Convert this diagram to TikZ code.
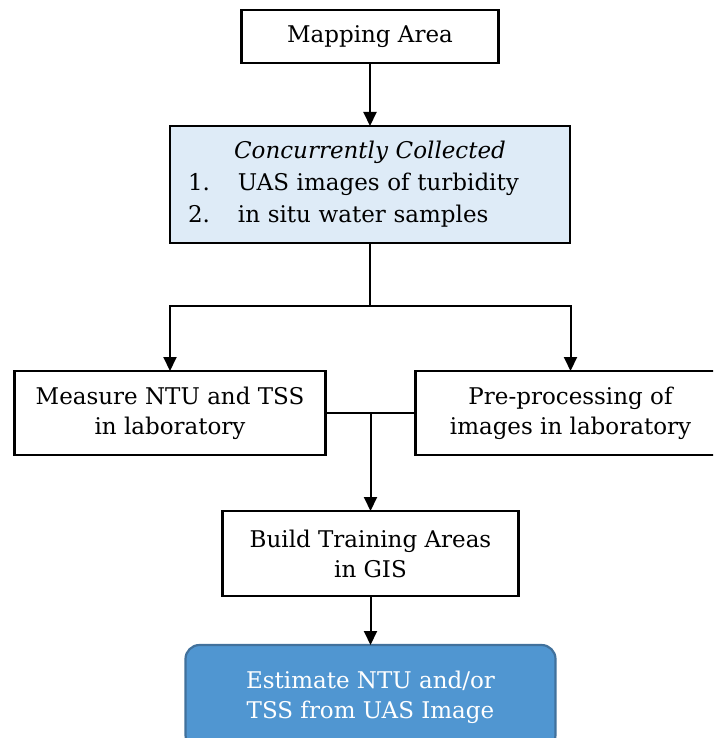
\documentclass[tikz,border=0pt]{standalone}
\usepackage{fontspec}
\setmainfont{DejaVu Serif}
\usetikzlibrary{arrows.meta,positioning,calc}
\usepackage{xcolor}
\definecolor{collectfill}{RGB}{222,235,247}
\definecolor{estimatefill}{RGB}{80,150,209}
\definecolor{estimatedraw}{RGB}{65,113,156}
\tikzset{
  stepbox/.style={rectangle,draw,line width=2.2pt,outer sep=0pt,align=center,inner sep=4pt,font=\fontsize{23}{30}\selectfont},
  collectbox/.style={stepbox,fill=collectfill,align=left,inner xsep=0pt,text width=400pt,font=\fontsize{23}{32}\selectfont},
  resultbox/.style={stepbox,rounded corners=14pt,draw=estimatedraw,fill=estimatefill,text=white},
}

\begin{document}
\begin{tikzpicture}[>={Triangle[length=14pt,width=13pt]},line width=2pt]
  \path[use as bounding box,clip] (0,0) rectangle (713pt,-738pt);
  \node[stepbox,minimum width=257pt,minimum height=53pt] (map) at (370pt,-36.5pt) {Mapping Area};
  \node[collectbox,minimum height=117pt,below=63pt of map] (collect)
    {\makebox[\linewidth]{\textit{Concurrently Collected}}\\
     \hspace*{18pt}\makebox[50pt][l]{1.}UAS images of turbidity\\
     \hspace*{18pt}\makebox[50pt][l]{2.}in situ water samples};
  \node[stepbox,minimum width=311pt,minimum height=84pt,below=128pt of collect.south west] (measure)
    {Measure NTU and TSS\\in laboratory};
  \node[stepbox,minimum width=310pt,minimum height=84pt,right=90pt of measure] (preproc)
    {Pre-processing of\\images in laboratory};
  \coordinate (join) at ($(measure.east)!0.5!(preproc.west)$);
  \coordinate[below=63pt of collect] (split);
  \node[stepbox,minimum width=296pt,minimum height=85pt,below=98pt of join] (build)
    {Build Training Areas\\in GIS};
  \node[resultbox,minimum width=370pt,minimum height=104pt,below=49pt of build] (estimate)
    {Estimate NTU and/or\\TSS from UAS Image};
  % connectors
  \draw[->] (map) -- (collect);
  \draw (collect) -- (split);
  \draw[->] (split) -| (measure.north);
  \draw[->] (split) -| (preproc.north);
  \draw (measure) -- (preproc);
  \draw[->] (join) -- (build);
  \draw[->] (build) -- (estimate);
\end{tikzpicture}
\end{document}
